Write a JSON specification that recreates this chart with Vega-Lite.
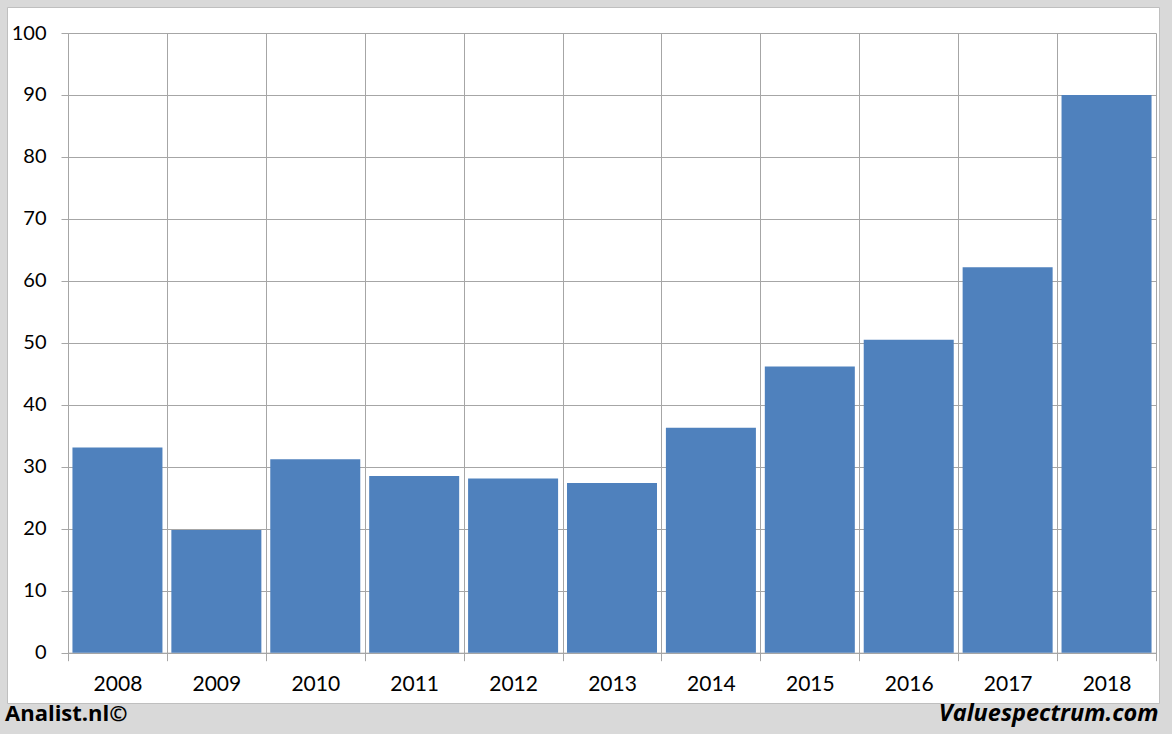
{
  "$schema": "https://vega.github.io/schema/vega-lite/v6.json",
  "width": 1152,
  "height": 696,
  "autosize": {"type": "none"},
  "padding": {"left": 7, "top": 7, "right": 13, "bottom": 31},
  "background": "#d9d9d9",
  "view": {"fill": "white", "stroke": "#bfbfbf", "strokeWidth": 1},
  "title": {
    "text": "Analist.nl©",
    "orient": "bottom",
    "anchor": "start",
    "font": "Open Sans",
    "fontSize": 22,
    "fontWeight": "bold",
    "color": "black",
    "baseline": "alphabetic",
    "offset": -4,
    "dx": -2
  },
  "data": {
    "values": [
      {"year": "2008", "value": 33.1},
      {"year": "2009", "value": 19.8},
      {"year": "2010", "value": 31.2},
      {"year": "2011", "value": 28.5},
      {"year": "2012", "value": 28.1},
      {"year": "2013", "value": 27.4},
      {"year": "2014", "value": 36.3},
      {"year": "2015", "value": 46.2},
      {"year": "2016", "value": 50.5},
      {"year": "2017", "value": 62.2},
      {"year": "2018", "value": 90.0}
    ]
  },
  "encoding": {
    "y": {
      "field": "value",
      "type": "quantitative",
      "scale": {"domain": [0, 100], "range": [645.7, 26], "nice": false, "zero": true},
      "axis": {
        "orient": "left",
        "offset": -61,
        "values": [0, 10, 20, 30, 40, 50, 60, 70, 80, 90, 100],
        "grid": true,
        "gridColor": "#a6a6a6",
        "gridWidth": 1,
        "domainColor": "#a6a6a6",
        "tickColor": "#a6a6a6",
        "tickSize": 7,
        "labelPadding": 15,
        "labelFont": "Lato",
        "labelFontSize": 20,
        "labelColor": "black",
        "title": null
      }
    }
  },
  "layer": [
    {
      "mark": {"type": "bar", "opacity": 0, "width": {"band": 0.91}},
      "encoding": {
        "x": {
          "field": "year",
          "type": "ordinal",
          "scale": {"range": [61, 1149], "paddingInner": 0, "paddingOuter": 0},
          "axis": {
            "orient": "top",
            "offset": -26,
            "tickBand": "extent",
            "grid": true,
            "gridColor": "#a6a6a6",
            "gridWidth": 1,
            "domain": false,
            "ticks": false,
            "labels": false,
            "title": null
          }
        }
      }
    },
    {
      "mark": {"type": "bar", "color": "#4f81bd", "width": {"band": 0.91}},
      "encoding": {
        "x": {
          "field": "year",
          "type": "ordinal",
          "scale": {"range": [61, 1149], "paddingInner": 0, "paddingOuter": 0},
          "axis": {
            "orient": "bottom",
            "offset": -50.3,
            "tickBand": "extent",
            "grid": false,
            "domainColor": "#a6a6a6",
            "tickColor": "#a6a6a6",
            "tickSize": 8,
            "labelAngle": 0,
            "labelPadding": 13,
            "labelFont": "Lato",
            "labelFontSize": 21,
            "labelColor": "black",
            "title": "Valuespectrum.com",
            "titleX": 1151,
            "titleY": 68,
            "titleAlign": "right",
            "titleBaseline": "alphabetic",
            "titleFont": "Open Sans",
            "titleFontSize": 23.5,
            "titleFontWeight": "bold",
            "titleFontStyle": "italic",
            "titleColor": "black"
          }
        }
      }
    }
  ],
  "resolve": {"axis": {"x": "independent"}}
}
